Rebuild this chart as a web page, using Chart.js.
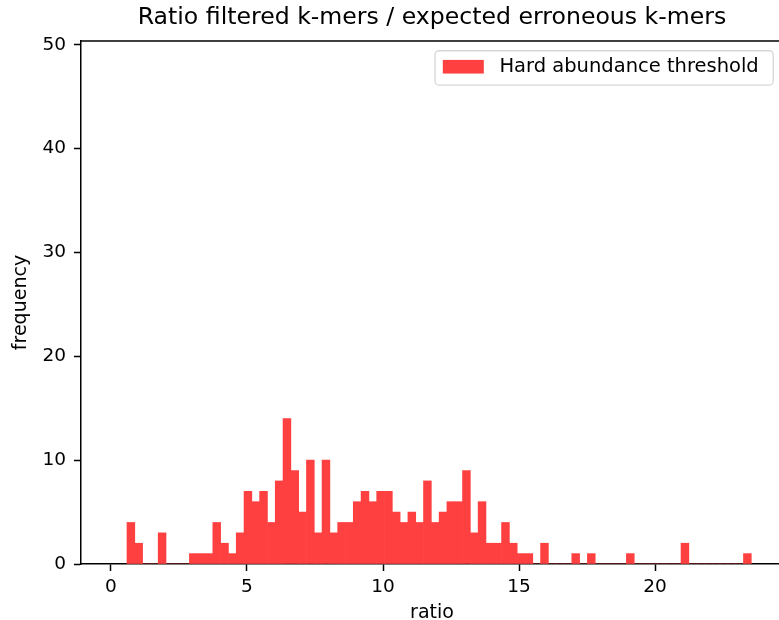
<!DOCTYPE html>
<html>
<head>
<meta charset="utf-8">
<script src="https://cdn.jsdelivr.net/npm/chart.js@4.4.1/dist/chart.umd.min.js"></script>
<style>
  html, body { margin: 0; padding: 0; background: #fff; }
  #wrap { width: 779px; height: 620px; overflow: hidden; }
</style>
</head>
<body>
<div id="wrap"><canvas id="myChart" width="864" height="620"></canvas></div>
<script>
// histogram: 80 bins of the ratio, counts
const binStart = 0.59;
const binWidth = 0.2868;
const counts = [
  4, 2, 0, 0, 3, 0, 0, 0, 1, 1,
  1, 4, 2, 1, 3, 7, 6, 7, 4, 8,
  14, 9, 5, 10, 3, 10, 3, 4, 4, 6,
  7, 6, 7, 7, 5, 4, 5, 4, 8, 4,
  5, 6, 6, 9, 3, 6, 2, 2, 4, 2,
  1, 1, 0, 2, 0, 0, 0, 1, 0, 1,
  0, 0, 0, 0, 1, 0, 0, 0, 0, 0,
  0, 2, 0, 0, 0, 0, 0, 0, 0, 1
];
const xTicks = [0, 5, 10, 15, 20];
const yTicks = [0, 10, 20, 30, 40, 50];
const seriesLabel = "Hard abundance threshold";

const font = "'DejaVu Sans', sans-serif";

// matplotlib style: top spine + legend box in the upper right corner
const frame = {
  id: "frame",
  afterDraw(chart) {
    const ctx = chart.ctx;
    const a = chart.chartArea;
    ctx.save();
    ctx.strokeStyle = "#000";
    ctx.lineWidth = 1.5;
    ctx.beginPath();
    ctx.moveTo(a.left - 0.75, a.top);
    ctx.lineTo(a.right, a.top);
    ctx.stroke();

    // legend
    const ds = chart.data.datasets[0];
    const fs = 19.5;
    ctx.font = fs + "px " + font;
    const tw = ctx.measureText(ds.label).width;
    const right = a.right - 0.5 * fs;
    const top = a.top + 0.5 * fs;
    const textRight = right - 14.5;
    const textLeft = textRight - tw;
    const patchRight = textLeft - 15.6;
    const patchLeft = patchRight - 41;
    const left = patchLeft - 7.8;
    const h = 34.3;
    const cy = top + h / 2 - 1.2;

    ctx.fillStyle = "rgba(255,255,255,0.8)";
    ctx.strokeStyle = "#d6d6d6";
    ctx.lineWidth = 1.3;
    ctx.beginPath();
    ctx.roundRect(left, top, right - left, h, 4);
    ctx.fill();
    ctx.stroke();

    ctx.fillStyle = ds.backgroundColor;
    ctx.fillRect(patchLeft, cy - 0.35 * fs, 41, 0.7 * fs);

    ctx.fillStyle = "#000";
    ctx.textBaseline = "middle";
    ctx.textAlign = "left";
    ctx.fillText(ds.label, textLeft, cy);
    ctx.restore();
  }
};

new Chart(document.getElementById("myChart"), {
  type: "bar",
  data: {
    datasets: [{
      label: seriesLabel,
      data: counts.map((c, i) => ({ x: binStart + (i + 0.5) * binWidth, y: c })),
      backgroundColor: "#ff4040",
      borderWidth: 0,
      barPercentage: 1,
      categoryPercentage: 1
    }]
  },
  options: {
    responsive: false,
    animation: false,
    devicePixelRatio: 1,
    layout: { padding: 0 },
    scales: {
      x: {
        type: "linear",
        offset: false,
        min: -1.1,
        max: 24.7,
        afterBuildTicks: (s) => { s.ticks = xTicks.map((v) => ({ value: v })); },
        afterFit: (s) => { s.height = 56; },
        grid: { offset: false, drawOnChartArea: false, drawTicks: true, tickLength: 7, tickWidth: 1.5, tickColor: "#000" },
        border: { display: true, color: "#000", width: 1.5 },
        ticks: { font: { family: font, size: 18.5 }, color: "#000", padding: 5, maxRotation: 0 },
        title: { display: true, text: "ratio", color: "#000", font: { family: font, size: 19, lineHeight: 0.74 }, padding: { top: 0, bottom: 0 } }
      },
      y: {
        min: 0,
        max: 50.36,
        afterBuildTicks: (s) => { s.ticks = yTicks.map((v) => ({ value: v })); },
        afterFit: (s) => { s.width = 81; },
        grid: { drawOnChartArea: false, drawTicks: true, tickLength: 7, tickWidth: 1.5, tickColor: "#000" },
        border: { display: true, color: "#000", width: 1.5 },
        ticks: { font: { family: font, size: 18.5 }, color: "#000", padding: 8 },
        title: { display: true, text: "frequency", color: "#000", font: { family: font, size: 19, lineHeight: 1.2 }, padding: { top: 9.6, bottom: 0 } }
      },
      // empty axis on the right so the title centres over the plot
      yr: {
        position: "right",
        display: true,
        grid: { display: false },
        border: { display: false },
        ticks: { display: false },
        afterFit: (s) => { s.width = 81; }
      }
    },
    plugins: {
      title: {
        display: true,
        text: "Ratio filtered k-mers / expected erroneous k-mers",
        color: "#000",
        font: { family: font, size: 23.6, weight: "normal", lineHeight: 1.2 },
        padding: { top: 3.5, bottom: 9.2 }
      },
      legend: { display: false },
      tooltip: { enabled: false }
    }
  },
  plugins: [frame]
});
</script>
</body>
</html>
